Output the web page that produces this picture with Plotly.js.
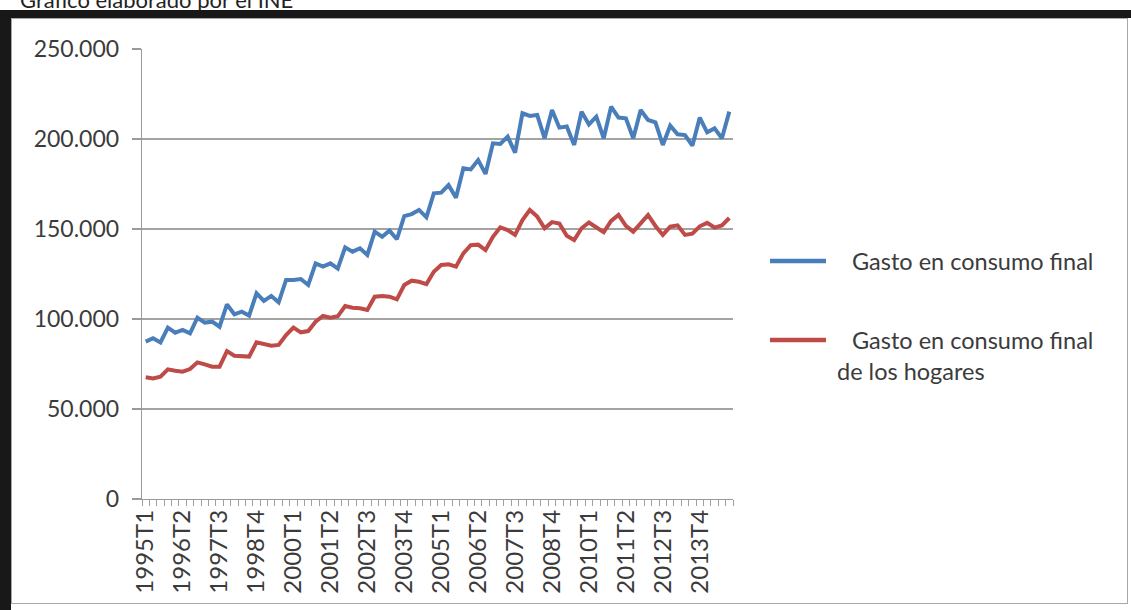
<!DOCTYPE html>
<html>
<head>
<meta charset="utf-8">
<script src="https://cdn.plot.ly/plotly-3.0.1.min.js"></script>
<style>
  html, body { margin:0; padding:0; width:1131px; height:610px; overflow:hidden; background:#ffffff; }
  #chart { position:absolute; left:0; top:0; width:1131px; height:610px; }
  .ov { position:absolute; z-index:5; pointer-events:none; }
</style>
</head>
<body>
<div id="chart"></div>
<div class="ov" style="left:0;top:0;width:1131px;height:10px;background:#fff;overflow:hidden;">
  <div style="position:absolute;left:20px;top:-14px;font-family:Lato,'Open Sans',sans-serif;font-size:22px;color:#222;white-space:nowrap;">Gráfico elaborado por el INE</div>
</div>
<div class="ov" style="left:0;top:10px;width:1131px;height:8px;background:#181818;"></div>
<div class="ov" style="left:0;top:10px;width:11px;height:600px;background:#181818;"></div>
<div class="ov" style="left:11px;top:18px;width:1115px;height:584px;border:1px solid #a8a8a8;"></div>
<script>
// ---- data (millones de euros) ----
const categories = [
  '1995T1','1995T2','1995T3','1995T4','1996T1','1996T2','1996T3','1996T4',
  '1997T1','1997T2','1997T3','1997T4','1998T1','1998T2','1998T3','1998T4',
  '1999T1','1999T2','1999T3','1999T4','2000T1','2000T2','2000T3','2000T4',
  '2001T1','2001T2','2001T3','2001T4','2002T1','2002T2','2002T3','2002T4',
  '2003T1','2003T2','2003T3','2003T4','2004T1','2004T2','2004T3','2004T4',
  '2005T1','2005T2','2005T3','2005T4','2006T1','2006T2','2006T3','2006T4',
  '2007T1','2007T2','2007T3','2007T4','2008T1','2008T2','2008T3','2008T4',
  '2009T1','2009T2','2009T3','2009T4','2010T1','2010T2','2010T3','2010T4',
  '2011T1','2011T2','2011T3','2011T4','2012T1','2012T2','2012T3','2012T4',
  '2013T1','2013T2','2013T3','2013T4','2014T1','2014T2','2014T3','2014T4'
];
const gastoConsumoFinal = [
  87400, 89300, 87000, 95200, 92400, 93900, 92000, 100700,
  98000, 98500, 95700, 108100, 102600, 104100, 101900, 114300,
  110000, 112800, 109300, 121700, 121700, 122200, 118900, 130900,
  129100, 130900, 128000, 139800, 137400, 139300, 135600, 148500,
  145700, 149100, 144300, 157200, 158300, 160600, 156500, 169800,
  170200, 174400, 167400, 183700, 183100, 188300, 180600, 197600,
  197200, 201300, 192400, 214300, 212800, 213300, 200400, 216100,
  206300, 206900, 196700, 215200, 208100, 212400, 200400, 218000,
  211900, 211500, 200400, 216100, 210600, 209300, 196700, 207400,
  202600, 202200, 196300, 211900, 203700, 205900, 200400, 215200
];
const gastoConsumoHogares = [
  67600, 67000, 68000, 72000, 71300, 70700, 72200, 75900,
  74800, 73500, 73500, 82200, 79600, 79100, 79100, 87000,
  85900, 85200, 85600, 91100, 95200, 92600, 93300, 98500,
  101700, 100700, 101500, 107200, 106300, 106000, 105000, 112400,
  112800, 112400, 110900, 118900, 121300, 120700, 119400, 126300,
  130000, 130400, 129100, 136500, 141000, 141300, 138300, 145700,
  150900, 149400, 146700, 155000, 160600, 156900, 150400, 153800,
  153000, 146200, 143900, 150400, 153600, 150800, 148200, 154500,
  157800, 151700, 148500, 153100, 157800, 151700, 146700, 151300,
  152000, 146700, 147400, 151500, 153400, 150800, 152000, 156100
];
const tickLabels = ['1995T1','1996T2','1997T3','1998T4','2000T1','2001T2','2002T3','2003T4',
                    '2005T1','2006T2','2007T3','2008T4','2010T1','2011T2','2012T3','2013T4'];
const yTicks = [0, 50000, 100000, 150000, 200000, 250000];
const seriesNames = ['Gasto en consumo final', 'Gasto en consumo final', 'de los hogares'];

// ---- style ----
const BLUE = '#4a7ebb', RED = '#be4b48';
const FONT = 'Lato, "Open Sans", sans-serif';
const TXT = '#3b3b3b';
const W = 1131, H = 610;
const M = {l:142, r:398, t:49, b:111};
const PW = W - M.l - M.r, PH = H - M.t - M.b;
const px = x => (x - M.l) / PW;
const py = y => (H - M.b - y) / PH;

const traces = [
  {x: categories, y: gastoConsumoFinal, type:'scatter', mode:'lines', name: seriesNames[0],
   line:{color:BLUE, width:4}, showlegend:false, hoverinfo:'skip'},
  {x: categories, y: gastoConsumoHogares, type:'scatter', mode:'lines', name: seriesNames[1] + ' ' + seriesNames[2],
   line:{color:RED, width:4}, showlegend:false, hoverinfo:'skip'}
];

const layout = {
  width: W, height: H,
  margin: M,
  paper_bgcolor:'#ffffff', plot_bgcolor:'#ffffff',
  separators: ',.',
  font: {family: FONT, color: TXT},
  xaxis: {
    type:'category', categoryorder:'array', categoryarray: categories,
    range:[-0.5, categories.length - 0.5],
    tickmode:'array', tickvals: categories,
    ticktext: categories.map(c => tickLabels.includes(c) ? c : ''),
    tickson:'boundaries', ticks:'outside', ticklen:6, tickcolor:'#a0a0a0', tickwidth:1,
    tickangle:-90, tickfont:{size:24, color:TXT, family:FONT},
    showgrid:false, showline:true, linecolor:'#9a9a9a', linewidth:1.3, zeroline:false
  },
  yaxis: {
    range:[0, 250000], tickmode:'array', tickvals: yTicks,
    tickformat:',d', ticks:'outside', ticklen:9, tickcolor:'#9a9a9a', tickwidth:1.3,
    tickfont:{size:23, color:TXT, family:FONT}, ticklabelstandoff: 8,
    showgrid:true, gridcolor:'#a3a3a3', gridwidth:1.4,
    showline:true, linecolor:'#9a9a9a', linewidth:1.3, zeroline:false
  },
  shapes: [
    {type:'line', xref:'paper', yref:'paper', x0:px(770), x1:px(826), y0:py(261), y1:py(261),
     line:{color:BLUE, width:4.5}},
    {type:'line', xref:'paper', yref:'paper', x0:px(770), x1:px(826), y0:py(340), y1:py(340),
     line:{color:RED, width:4.5}}
  ],
  annotations: [
    {xref:'paper', yref:'paper', x:px(850), y:py(261), xanchor:'left', yanchor:'middle',
     text: seriesNames[0], showarrow:false, font:{size:23.5, color:TXT, family:FONT}},
    {xref:'paper', yref:'paper', x:px(850), y:py(340), xanchor:'left', yanchor:'middle',
     text: seriesNames[1], showarrow:false, font:{size:23.5, color:TXT, family:FONT}},
    {xref:'paper', yref:'paper', x:px(835), y:py(371), xanchor:'left', yanchor:'middle',
     text: seriesNames[2], showarrow:false, font:{size:23.5, color:TXT, family:FONT}}
  ]
};

Plotly.newPlot('chart', traces, layout, {displayModeBar:false, staticPlot:true});
</script>
</body>
</html>
